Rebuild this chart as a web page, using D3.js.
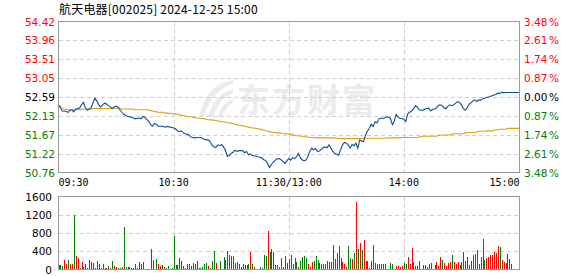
<!DOCTYPE html>
<html>
<head>
<meta charset="utf-8">
<script src="https://cdn.jsdelivr.net/npm/d3@7"></script>
<style>
  body { margin: 0; background: #fff; }
  svg { display: block; }
</style>
</head>
<body>
<svg></svg>
<script>
// 航天电器 分时图 2024-12-25
let title = '航天电器[002025] 2024-12-25 15:00'
let prevClose = 52.59

let priceLabels = ['54.42', '53.96', '53.51', '53.05', '52.59', '52.13', '51.67', '51.22', '50.76']
let pctLabels = ['3.48', '2.61', '1.74', '0.87', '0.00', '0.87', '1.74', '2.61', '3.48']
let volTicks = [0, 400, 800, 1200, 1600]
let timeLabels = ['09:30', '10:30', '11:30/13:00', '14:00', '15:00']
let timeIndex = [0, 60, 120, 180, 240]

let prices = [
  52.40, 52.33, 52.25, 52.25, 52.24, 52.22, 52.27, 52.28, 52.23, 52.30,
  52.31, 52.32, 52.40, 52.46, 52.33, 52.27, 52.30, 52.33, 52.45, 52.56,
  52.49, 52.40, 52.35, 52.40, 52.44, 52.42, 52.38, 52.35, 52.31, 52.35,
  52.37, 52.35, 52.28, 52.22, 52.17, 52.15, 52.12, 52.11, 52.10, 52.08,
  52.06, 52.07, 52.08, 52.06, 52.12, 52.10, 52.05, 52.00, 51.92, 51.88,
  51.95, 51.93, 51.88, 51.88, 51.88, 51.87, 51.86, 51.88, 51.86, 51.85,
  51.84, 51.82, 51.77, 51.75, 51.77, 51.72, 51.70, 51.69, 51.67, 51.62,
  51.61, 51.60, 51.61, 51.61, 51.61, 51.59, 51.56, 51.55, 51.55, 51.51,
  51.42, 51.38, 51.37, 51.43, 51.41, 51.44, 51.38, 51.30, 51.15, 51.17,
  51.22, 51.25, 51.30, 51.27, 51.29, 51.29, 51.29, 51.24, 51.27, 51.19,
  51.21, 51.17, 51.16, 51.16, 51.14, 51.13, 51.11, 51.07, 51.05, 50.97,
  50.88, 50.96, 51.01, 51.06, 51.09, 51.10, 51.07, 51.03, 50.98, 51.04,
  51.10, 51.06, 51.12, 51.10, 51.14, 51.22, 51.12, 51.07, 51.04, 51.06,
  51.15, 51.28, 51.35, 51.31, 51.34, 51.27, 51.28, 51.33, 51.36, 51.38,
  51.36, 51.43, 51.35, 51.27, 51.22, 51.20, 51.18, 51.31, 51.43, 51.49,
  51.47, 51.43, 51.35, 51.44, 51.41, 51.47, 51.35, 51.55, 51.52, 51.51,
  51.67, 51.76, 51.83, 51.93, 51.87, 51.99, 51.96, 52.06, 52.08, 52.07,
  52.08, 52.11, 52.10, 52.07, 51.92, 52.00, 52.17, 52.10, 52.07, 52.07,
  52.05, 52.00, 52.18, 52.22, 52.25, 52.30, 52.38, 52.35, 52.28, 52.27,
  52.27, 52.30, 52.31, 52.32, 52.25, 52.29, 52.30, 52.33, 52.39, 52.40,
  52.38, 52.32, 52.31, 52.37, 52.40, 52.38, 52.40, 52.44, 52.48, 52.46,
  52.40, 52.31, 52.27, 52.33, 52.42, 52.45, 52.49, 52.52, 52.48, 52.52,
  52.51, 52.55, 52.56, 52.58, 52.59, 52.60, 52.62, 52.64, 52.65, 52.69,
  52.67, 52.71, 52.69, 52.70, 52.70, 52.70, 52.70, 52.70, 52.70, 52.70,
  52.70
]

let avgPrices = [
  52.40, 52.36, 52.32, 52.30, 52.29, 52.28, 52.28, 52.28, 52.28, 52.28,
  52.28, 52.28, 52.29, 52.30, 52.30, 52.30, 52.30, 52.30, 52.31, 52.31,
  52.31, 52.31, 52.31, 52.31, 52.31, 52.31, 52.31, 52.31, 52.32, 52.32,
  52.32, 52.32, 52.31, 52.30, 52.30, 52.30, 52.30, 52.30, 52.30, 52.29,
  52.28, 52.28, 52.28, 52.28, 52.28, 52.28, 52.28, 52.27, 52.26, 52.25,
  52.24, 52.23, 52.22, 52.22, 52.22, 52.21, 52.20, 52.20, 52.19, 52.19,
  52.18, 52.18, 52.17, 52.16, 52.15, 52.14, 52.13, 52.12, 52.11, 52.11,
  52.10, 52.09, 52.08, 52.08, 52.07, 52.07, 52.06, 52.05, 52.04, 52.04,
  52.03, 52.03, 52.02, 52.01, 52.00, 51.99, 51.99, 51.98, 51.97, 51.96,
  51.95, 51.94, 51.93, 51.92, 51.91, 51.90, 51.89, 51.88, 51.87, 51.86,
  51.85, 51.84, 51.84, 51.83, 51.82, 51.81, 51.80, 51.79, 51.77, 51.76,
  51.75, 51.74, 51.73, 51.73, 51.72, 51.72, 51.71, 51.71, 51.70, 51.70,
  51.69, 51.69, 51.68, 51.66, 51.65, 51.65, 51.64, 51.64, 51.63, 51.62,
  51.62, 51.61, 51.61, 51.61, 51.61, 51.60, 51.60, 51.60, 51.60, 51.60,
  51.60, 51.60, 51.60, 51.60, 51.60, 51.59, 51.58, 51.58, 51.58, 51.58,
  51.58, 51.58, 51.58, 51.58, 51.58, 51.58, 51.58, 51.58, 51.58, 51.59,
  51.59, 51.59, 51.59, 51.59, 51.59, 51.59, 51.59, 51.59, 51.59, 51.59,
  51.59, 51.60, 51.60, 51.60, 51.60, 51.60, 51.60, 51.60, 51.60, 51.61,
  51.61, 51.61, 51.61, 51.61, 51.61, 51.61, 51.61, 51.61, 51.62, 51.63,
  51.64, 51.64, 51.64, 51.64, 51.64, 51.64, 51.64, 51.64, 51.66, 51.67,
  51.67, 51.67, 51.67, 51.67, 51.67, 51.69, 51.70, 51.70, 51.70, 51.70,
  51.70, 51.70, 51.72, 51.73, 51.73, 51.73, 51.73, 51.73, 51.75, 51.76,
  51.76, 51.76, 51.76, 51.77, 51.77, 51.77, 51.77, 51.79, 51.79, 51.79,
  51.81, 51.81, 51.81, 51.81, 51.83, 51.83, 51.83, 51.83, 51.83, 51.83,
  51.83
]

let volumes = [
  100, 103, 66, 200, 110, 213, 125, 125, 1190, 287,
  258, 30, 170, 50, 110, 30, 200, 155, 140, 37,
  177, 110, 22, 110, 22, 30, 74, 22, 177, 66,
  52, 22, 37, 52, 927, 52, 44, 44, 37, 22,
  125, 37, 162, 110, 155, 15, 15, 15, 442, 200,
  15, 221, 110, 66, 103, 52, 30, 74, 7, 37,
  730, 103, 88, 243, 184, 66, 22, 125, 125, 81,
  132, 110, 191, 29, 29, 52, 110, 132, 74, 29,
  184, 412, 147, 10, 184, 7, 265, 206, 412, 309,
  294, 294, 147, 162, 110, 59, 110, 103, 88, 110,
  383, 110, 44, 15, 15, 44, 29, 309, 294, 846,
  383, 449, 383, 96, 96, 59, 250, 59, 294, 132,
  228, 309, 110, 250, 169, 59, 191, 265, 294, 243,
  110, 59, 169, 191, 294, 206, 132, 110, 118, 110,
  191, 162, 162, 537, 220, 368, 515, 243, 169, 110,
  59, 515, 243, 221, 353, 1487, 456, 589, 427, 648,
  191, 191, 37, 191, 537, 132, 110, 110, 110, 110,
  110, 15, 15, 132, 118, 15, 74, 74, 59, 74,
  132, 118, 265, 118, 471, 162, 74, 74, 177, 15,
  88, 103, 44, 118, 132, 15, 96, 162, 74, 265,
  206, 132, 74, 147, 162, 309, 162, 118, 162, 103,
  162, 383, 191, 265, 88, 191, 309, 339, 427, 118,
  265, 670, 206, 250, 280, 316, 316, 383, 368, 515,
  500, 206, 162, 132, 339, 235, 118, 15, 0, 0,
  206
]

// r = up minute, g = down minute
let volDirs = (
  'gggrrgrrgr' + 'rgrggrrrrr' + 'ggrrgrgrgr' + 'rggrgggggg' + 'grgrgrgggg' +
  'ggrrgrgggg' + 'ggggrggrgg' + 'grgrggggrg' + 'ggrggrggrg' + 'rrrrgrgrgg' +
  'rgrgrggggr' + 'ggrrrrgggr' + 'rrgggrgggg' + 'rrrgggrgrg' + 'grrggggrrr' +
  'rggrgrgrgr' + 'rrgrggrrrr' + 'rggggrrrrr' + 'ggrrrrrrgr' + 'rrgggrrrrr' +
  'grrrrgrrrg' + 'rgrgrrrrrg' + 'rrgrrrrrrr' + 'grrrggrgrr' + 'r'
).split('')

let width = 578
let height = 276
let left = 58.5
let right = 519.5
let priceTop = 21.5
let priceBottom = 172.5
let volTop = 196.5
let volBottom = 269.5

let upColor = '#ff0000'
let downColor = '#008000'
let flatColor = '#000000'
let gridColor = '#cfcfcf'
let frameColor = '#9a9a9a'

let svg = d3.select('svg').attr('width', width).attr('height', height)

let xScale = d3.scaleLinear().domain([0, 240]).range([left, right - 0.5])
let yScale = d3.scaleLinear()
  .domain([+priceLabels[8], +priceLabels[0]])
  .range([priceBottom, priceTop])
let labelScale = d3.scaleLinear().domain([0, 8]).range([priceTop, priceBottom])
let volScale = d3.scaleLinear().domain([0, 1600]).range([volBottom, volTop])

// watermark
let wm = svg.append('g').attr('fill', '#ebebef')
wm.append('path').attr('d', 'M233,80 Q206,84 199,117 L204,117 Q212,90 233,84 Z')
wm.append('path').attr('d', 'M233,89 Q214,94 208,117 L213,117 Q219,99 233,93 Z')
wm.append('path').attr('d', 'M233,98 Q222,103 217,117 L222,117 Q226,107 233,102 Z')
wm.append('text')
  .attr('x', 237).attr('y', 112)
  .attr('font-family', 'Noto Sans CJK SC')
  .attr('font-weight', 'bold')
  .attr('font-size', 33)
  .attr('letter-spacing', 2)
  .text('东方财富')

// title
svg.append('text')
  .attr('x', 59).attr('y', 14)
  .attr('font-family', 'Noto Sans CJK SC')
  .attr('font-size', 12)
  .attr('letter-spacing', 0.2)
  .attr('fill', '#000')
  .text(title)

let drawGrid = (top, bottom, rows) => {
  let g = svg.append('g')
    .attr('stroke', gridColor)
    .attr('stroke-dasharray', '4,3')
    .attr('shape-rendering', 'crispEdges')
  rows.forEach((y) => {
    g.append('line').attr('x1', left).attr('x2', right).attr('y1', y).attr('y2', y)
  })
  timeIndex.slice(1, 4).forEach((i) => {
    let x = Math.round(xScale(i)) + 0.5
    g.append('line').attr('x1', x).attr('x2', x).attr('y1', top).attr('y2', bottom)
  })
}

let drawFrame = (top, bottom) => {
  svg.append('rect')
    .attr('x', left).attr('y', top)
    .attr('width', right - left).attr('height', bottom - top)
    .attr('fill', 'none')
    .attr('stroke', frameColor)
    .attr('shape-rendering', 'crispEdges')
}

// price panel
drawGrid(priceTop, priceBottom, d3.range(1, 8).map((k) => Math.round(labelScale(k)) + 0.5))

let line = d3.line()
  .x((d, i) => xScale(i))
  .y((d) => yScale(d))

svg.append('path')
  .datum(avgPrices)
  .attr('d', line)
  .attr('fill', 'none')
  .attr('stroke', '#e0a010')
  .attr('stroke-width', 1.1)

svg.append('path')
  .datum(prices)
  .attr('d', line)
  .attr('fill', 'none')
  .attr('stroke', '#0b4ea2')
  .attr('stroke-width', 1.1)

drawFrame(priceTop, priceBottom)

let labelColor = (k) => k < 4 ? upColor : (k == 4 ? flatColor : downColor)

svg.append('g')
  .selectAll('text')
  .data(priceLabels)
  .enter()
  .append('text')
  .attr('x', 55)
  .attr('y', (d, k) => labelScale(k) + 4)
  .attr('text-anchor', 'end')
  .attr('font-family', 'DejaVu Sans')
  .attr('font-size', 10.5)
  .attr('fill', (d, k) => labelColor(k))
  .text((d) => d)

let pct = svg.append('g')
  .selectAll('text')
  .data(pctLabels)
  .enter()
  .append('text')
  .attr('x', 524)
  .attr('y', (d, k) => labelScale(k) + 4)
  .attr('font-family', 'DejaVu Sans')
  .attr('font-size', 10.5)
  .attr('fill', (d, k) => labelColor(k))
pct.append('tspan').text((d) => d)
pct.append('tspan').attr('dx', 1.5).text('%')

svg.append('g')
  .selectAll('text')
  .data(timeLabels)
  .enter()
  .append('text')
  .attr('x', (d, k) => k == 0 ? left : (k == 4 ? right : xScale(timeIndex[k])))
  .attr('y', 185.5)
  .attr('text-anchor', (d, k) => k == 0 ? 'start' : (k == 4 ? 'end' : 'middle'))
  .attr('font-family', 'DejaVu Sans Mono')
  .attr('font-size', 10)
  .attr('fill', '#000')
  .text((d) => d)

// volume panel
drawGrid(volTop, volBottom, volTicks.slice(1, 4).map((v) => Math.round(volScale(v)) + 0.5))

svg.append('g')
  .selectAll('rect')
  .data(volumes)
  .enter()
  .append('rect')
  .attr('x', (d, i) => Math.round(xScale(i)) - 0.5)
  .attr('y', (d) => volScale(d))
  .attr('width', 1)
  .attr('height', (d) => volBottom - volScale(d))
  .attr('fill', (d, i) => volDirs[i] == 'r' ? upColor : downColor)
  .attr('shape-rendering', 'crispEdges')

drawFrame(volTop, volBottom)

svg.append('g')
  .selectAll('text')
  .data(volTicks)
  .enter()
  .append('text')
  .attr('x', 52)
  .attr('y', (d) => volScale(d) + 4)
  .attr('text-anchor', 'end')
  .attr('font-family', 'DejaVu Sans')
  .attr('font-size', 10.5)
  .attr('fill', '#000')
  .text((d) => d)
</script>
</body>
</html>
